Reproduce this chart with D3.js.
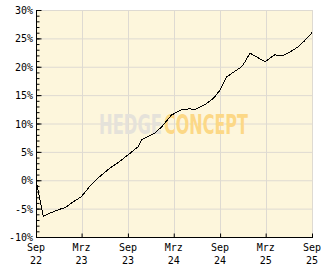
<!DOCTYPE html>
<html>
<head>
<meta charset="utf-8">
<script src="https://cdn.jsdelivr.net/npm/d3@7"></script>
<style>
  body { margin: 0; background: #fff; }
  svg { display: block; }
  text { font-family: "DejaVu Sans Mono", monospace; font-size: 10px; fill: #000; }
</style>
</head>
<body>
<div id="chart"></div>
<script>
// performance since start (%)
const dates = ["2022-09-01", "2022-09-30", "2022-10-26", "2022-12-05", "2022-12-27", "2023-01-27",
    "2023-02-28", "2023-04-02", "2023-05-11", "2023-06-20", "2023-07-30", "2023-09-08",
    "2023-10-11", "2023-10-25", "2023-12-16", "2024-01-13", "2024-02-21", "2024-04-01",
    "2024-05-04", "2024-05-23", "2024-07-02", "2024-08-05", "2024-09-01", "2024-09-27",
    "2024-10-23", "2024-11-26", "2024-12-09", "2024-12-29", "2025-01-25", "2025-02-27",
    "2025-04-06", "2025-05-03", "2025-05-29", "2025-07-08", "2025-08-03", "2025-09-01"];
const values = [0, -6.4, -5.8, -5.1, -4.8, -3.8,
    -2.9, -1.1, 0.6, 2.1, 3.3, 4.7,
    5.9, 7.1, 8.3, 9.4, 11.5, 12.4,
    12.6, 12.4, 13.3, 14.4, 15.9, 18.2,
    19.0, 20.0, 20.9, 22.4, 21.7, 20.9,
    22.1, 21.9, 22.4, 23.5, 24.6, 26.0];

const xTickDates = ["2022-09-01", "2023-03-01", "2023-09-01", "2024-03-01", "2024-09-01", "2025-03-01", "2025-09-01"];
const xTickMonths = ["Sep", "Mrz", "Sep", "Mrz", "Sep", "Mrz", "Sep"];
const xTickYears = ["22", "23", "23", "24", "24", "25", "25"];
const yTicks = [-10, -5, 0, 5, 10, 15, 20, 25, 30];

const parse = d3.timeParse("%Y-%m-%d");
const data = dates.map((d, i) => ({date: parse(d), value: values[i]}));

const W = 332, H = 269;
const margin = {top: 10, right: 20, bottom: 32, left: 36};
const width = W - margin.left - margin.right;
const height = H - margin.top - margin.bottom;

const svg = d3.select("#chart").append("svg")
    .attr("width", W)
    .attr("height", H);
const g = svg.append("g")
    .attr("transform", `translate(${margin.left},${margin.top})`);

const x = d3.scaleTime()
    .domain([parse(xTickDates[0]), parse(xTickDates[xTickDates.length - 1])])
    .range([0, width]);
const y = d3.scaleLinear()
    .domain([-10, 30])
    .range([height, 0]);

//plot background
g.append("rect")
    .attr("width", width)
    .attr("height", height)
    .attr("fill", "#fdf6dc");

//grid
g.append("g").selectAll("line")
    .data(yTicks)
    .join("line")
    .attr("x1", 0).attr("x2", width)
    .attr("y1", d => y(d) + 0.5).attr("y2", d => y(d) + 0.5)
    .attr("stroke", "#dedad2");
g.append("g").selectAll("line")
    .data(xTickDates.map(parse))
    .join("line")
    .attr("x1", d => Math.round(x(d)) + 0.5).attr("x2", d => Math.round(x(d)) + 0.5)
    .attr("y1", 0).attr("y2", height)
    .attr("stroke", "#dedad2");

//watermark: two words squeezed horizontally to fit their boxes
function watermark(word, x0, w, color) {
    const t = g.append("text")
        .style("font-family", "'DejaVu Sans', sans-serif")
        .style("font-weight", "bold").style("font-size", "27px")
        .style("fill", color)
        .text(word);
    const natural = t.node().getComputedTextLength();
    t.attr("transform", `translate(${x0},124) scale(${w / natural},1)`);
}
watermark("HEDGE", 63, 63, "#e5e2da");
watermark("CONCEPT", 128, 84, "#fcd886");

//line
g.append("path")
    .datum(data)
    .attr("fill", "none")
    .attr("stroke", "#000")
    .attr("stroke-width", 1)
    .attr("shape-rendering", "crispEdges")
    .attr("d", d3.line()
        .x(d => x(d.date))
        .y(d => y(d.value)));

//y axis with minor ticks pointing inward
const yAxis = g.append("g").attr("transform", "translate(0.5,0)");
yAxis.call(d3.axisRight(y).ticks(40).tickSize(3).tickFormat(""));
yAxis.select(".domain").remove();
yAxis.selectAll("line").attr("stroke", "#000");
g.append("g").attr("transform", "translate(0.5,0)")
    .call(d3.axisRight(y).tickValues(yTicks).tickSize(5).tickFormat(""))
    .call(a => a.select(".domain").remove())
    .selectAll("line").attr("stroke", "#000");
g.append("line")
    .attr("x1", 0.5).attr("x2", 0.5)
    .attr("y1", 0).attr("y2", height + 0.5)
    .attr("stroke", "#000");
g.append("g").selectAll("text")
    .data(yTicks)
    .join("text")
    .attr("x", -3)
    .attr("y", d => y(d) + 4)
    .attr("text-anchor", "end")
    .text(d => d + "%");

//x axis
const xAxis = g.append("g").attr("transform", `translate(0,${height + 0.5})`);
xAxis.call(d3.axisTop(x).tickValues(xTickDates.map(parse)).tickSize(4).tickFormat(""))
    .call(a => a.select(".domain").remove())
    .selectAll("line").attr("stroke", "#000");
g.append("line")
    .attr("x1", 0).attr("x2", width + 1)
    .attr("y1", height + 0.5).attr("y2", height + 0.5)
    .attr("stroke", "#000");
const labels = g.append("g").selectAll("g")
    .data(xTickDates)
    .join("g")
    .attr("transform", d => `translate(${x(parse(d))},${height})`);
labels.append("text")
    .attr("y", 14)
    .attr("text-anchor", "middle")
    .text((d, i) => xTickMonths[i]);
labels.append("text")
    .attr("y", 27)
    .attr("text-anchor", "middle")
    .text((d, i) => xTickYears[i]);
</script>
</body>
</html>
